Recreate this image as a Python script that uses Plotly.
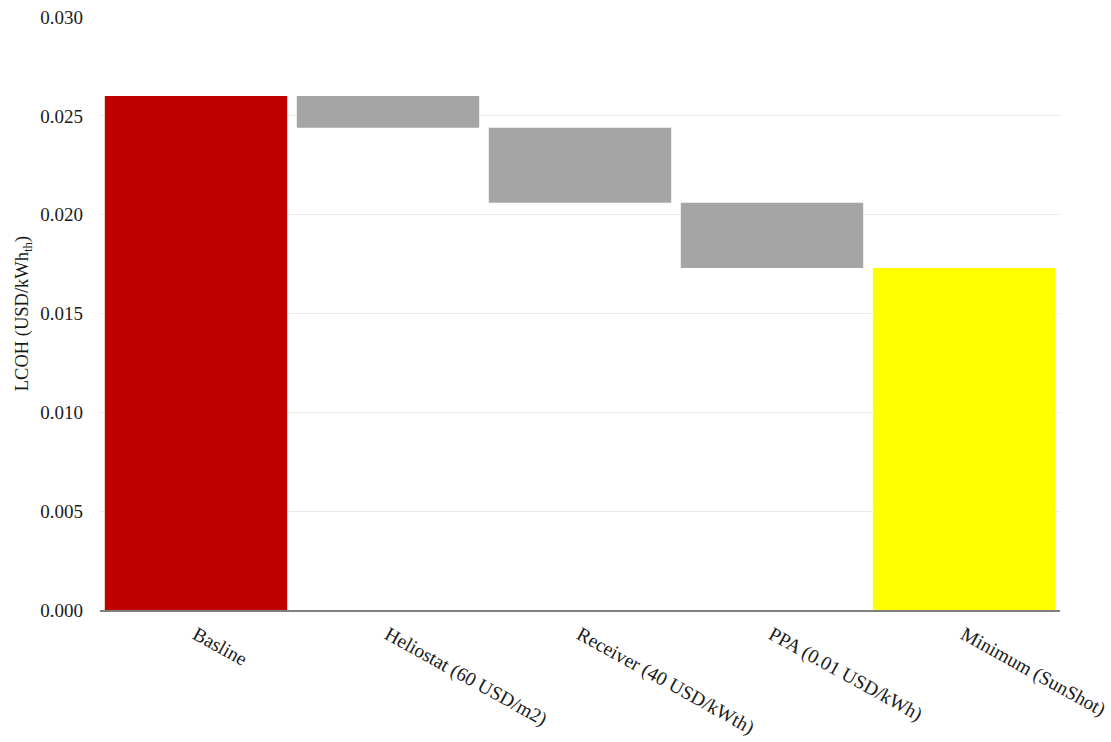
import plotly.graph_objects as go

# LCOH waterfall: baseline, reductions from each improvement, resulting minimum
categories = ["Basline", "Heliostat (60 USD/m2)", "Receiver (40 USD/kWth)",
              "PPA (0.01 USD/kWh)", "Minimum (SunShot)"]
baseline_lcoh = 0.0260
reductions = [-0.0016, -0.0038, -0.0033]
colors = ["#c00000", "#a5a5a5", "#a5a5a5", "#a5a5a5", "#ffff00"]

# build floating bar bases / heights from the cumulative levels
bases, heights = [0.0], [baseline_lcoh]
level = baseline_lcoh
for d in reductions:
    new_level = level + d
    bases.append(new_level)
    heights.append(level - new_level)
    level = new_level
bases.append(0.0)
heights.append(level)

fig = go.Figure(go.Bar(
    x=categories, y=heights, base=bases,
    marker=dict(color=colors, line=dict(width=0)),
    hovertemplate="%{x}<extra></extra>",
))

font_family = "Liberation Serif, Times New Roman, serif"
fig.update_layout(
    width=1111, height=742,
    margin=dict(l=100, r=51, t=17, b=132, autoexpand=False),
    paper_bgcolor="white", plot_bgcolor="white",
    bargap=0.05,
    showlegend=False,
    font=dict(family=font_family, size=19, color="#1a1a1a"),
    xaxis=dict(
        tickangle=29, showgrid=False, automargin=False,
        showline=True, linecolor="#7f7f7f", linewidth=1.5,
        ticks="", tickfont=dict(size=19.5), ticklabelstandoff=4,
    ),
    yaxis=dict(
        range=[0, 0.030001], dtick=0.005, tickformat=".3f",
        showgrid=True, gridcolor="#ebebeb", gridwidth=1,
        zeroline=False, ticks="", ticklen=0, automargin=False,
        tickfont=dict(size=19), ticklabelstandoff=16,
        title=dict(text="LCOH (USD/kWh<sub>th</sub>)", font=dict(size=18.5), standoff=6),
    ),
)

fig.write_html("out.html")
